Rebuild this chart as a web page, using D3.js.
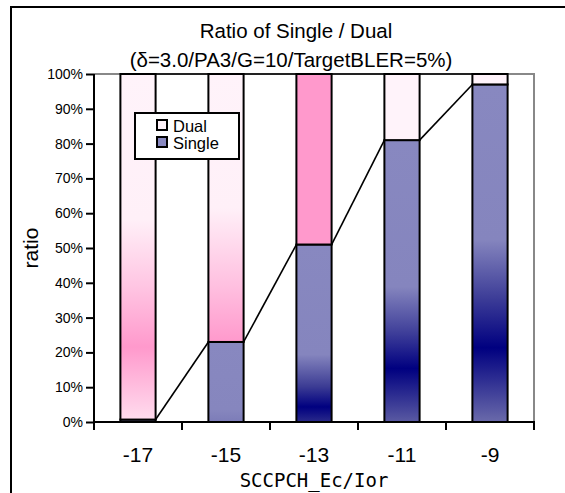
<!DOCTYPE html>
<html><head><meta charset="utf-8">
<script src="https://cdn.jsdelivr.net/npm/d3@7/dist/d3.min.js"></script>
<style>body{margin:0;background:#fff}svg{display:block}text{font-family:"Liberation Sans",Arial,sans-serif;fill:#000}</style>
</head><body>
<script>
// ---- data ----
const categories = ["-17", "-15", "-13", "-11", "-9"];
const singleValues = [0.7, 23, 51, 81, 97];          // % Single
const dualValues = singleValues.map(v => 100 - v);   // % Dual (stack remainder)
const yTickValues = [0,10,20,30,40,50,60,70,80,90,100];
const seriesNames = ["Dual", "Single"];
const titleLines = ["Ratio of Single / Dual", "(δ=3.0/PA3/G=10/TargetBLER=5%)"];

// ---- styles (gradient stops per bar, offset 0 = top of segment) ----
const singleGrad = [
  [[0,"#8888c0"],[1,"#8888c0"]],
  [[0,"#8888c0"],[0.85,"#8686be"],[1,"#7c7cb8"]],
  [[0,"#8888c0"],[0.62,"#8585be"],[0.8,"#3c3c94"],[0.915,"#000080"],[1,"#2a2a8a"]],
  [[0,"#8888c0"],[0.52,"#8585be"],[0.68,"#40409a"],[0.81,"#000080"],[1,"#5a5aa2"]],
  [[0,"#8888c0"],[0.46,"#8585be"],[0.64,"#3a3a96"],[0.78,"#000080"],[1,"#6a6aaa"]]
];
const dualGrad = [
  [[0,"#fff3fa"],[0.42,"#fff0f8"],[0.62,"#ffc4e2"],[0.79,"#ff99cc"],[1,"#ffdcee"]],
  [[0,"#fff3fa"],[0.5,"#fff0f8"],[0.8,"#ffbedf"],[1,"#ff99cc"]],
  [[0,"#ff99cc"],[1,"#ff99cc"]],
  [[0,"#fff3fa"],[1,"#fff3fa"]],
  [[0,"#fff3fa"],[1,"#fff3fa"]]
];

const W = 565, H = 493;
const m = {left: 94, right: 534, top: 74, bottom: 422};
const svg = d3.select("body").append("svg").attr("width", W).attr("height", H);
const defs = svg.append("defs");

function grad(id, stops) {
  const g = defs.append("linearGradient").attr("id", id)
    .attr("x1", 0).attr("y1", 0).attr("x2", 0).attr("y2", 1);
  stops.forEach(s => g.append("stop").attr("offset", s[0]).attr("stop-color", s[1]));
}
singleGrad.forEach((s, i) => grad("gs" + i, s));
dualGrad.forEach((s, i) => grad("gd" + i, s));

// outer chart border
svg.append("rect").attr("x", 11).attr("y", 7).attr("width", 640).attr("height", 640)
  .attr("fill", "none").attr("stroke", "#000").attr("stroke-width", 2);

const x = d3.scaleBand().domain(categories).range([m.left, m.right])
  .paddingInner(0.6).paddingOuter(0.3);
const y = d3.scaleLinear().domain([0, 100]).range([m.bottom, m.top]);

// plot area border (gray top/right)
svg.append("path")
  .attr("d", `M${m.left},${y(100)}H${m.right}V${y(0)}`)
  .attr("fill", "none").attr("stroke", "#888").attr("stroke-width", 2);

// stacked data
const stack = categories.map((c, i) => ({c, i, s: singleValues[i], d: dualValues[i]}));

// Single bars
svg.append("g").selectAll("rect").data(stack).join("rect")
  .attr("x", d => x(d.c)).attr("width", x.bandwidth())
  .attr("y", d => y(d.s)).attr("height", d => y(0) - y(d.s))
  .attr("fill", d => `url(#gs${d.i})`).attr("stroke", "#000").attr("stroke-width", 2);
// Dual bars
svg.append("g").selectAll("rect").data(stack).join("rect")
  .attr("x", d => x(d.c)).attr("width", x.bandwidth())
  .attr("y", d => y(d.s + d.d)).attr("height", d => y(d.s) - y(d.s + d.d))
  .attr("fill", d => `url(#gd${d.i})`).attr("stroke", "#000").attr("stroke-width", 2);

// series lines
const sl = svg.append("g").attr("stroke", "#000").attr("stroke-width", 1.6).attr("fill", "none");
for (let i = 0; i < categories.length - 1; i++) {
  const x1 = x(categories[i]) + x.bandwidth(), x2 = x(categories[i + 1]);
  sl.append("line").attr("x1", x1).attr("x2", x2)
    .attr("y1", y(singleValues[i])).attr("y2", y(singleValues[i + 1]));
  sl.append("line").attr("x1", x1).attr("x2", x2)
    .attr("y1", y(singleValues[i] + dualValues[i])).attr("y2", y(singleValues[i + 1] + dualValues[i + 1]));
}

// y axis
const ya = svg.append("g").attr("transform", `translate(${m.left},0)`)
  .call(d3.axisLeft(y).tickValues(yTickValues).tickFormat(d => d + "%").tickSize(8).tickPadding(3));
ya.select(".domain").attr("stroke", "#000").attr("stroke-width", 2).attr("d", `M0,${y(0)}V${y(100)}`);
ya.selectAll(".tick line").attr("stroke", "#000").attr("stroke-width", 2);
ya.selectAll(".tick text").attr("font-size", 14).attr("font-family", "Liberation Sans, Arial, sans-serif").attr("fill", "#000");

// x axis
const step = x.step();
const boundaries = d3.range(categories.length + 1).map(i => m.left + i * step);
const xa = svg.append("g");
xa.append("line").attr("x1", m.left - 1).attr("x2", m.right + 1).attr("y1", y(0)).attr("y2", y(0))
  .attr("stroke", "#000").attr("stroke-width", 2);
xa.selectAll("line.t").data(boundaries).join("line").attr("class", "t")
  .attr("x1", d => d).attr("x2", d => d).attr("y1", y(0)).attr("y2", y(0) + 8)
  .attr("stroke", "#000").attr("stroke-width", 2);
xa.selectAll("text").data(categories).join("text")
  .attr("x", d => x(d) + x.bandwidth() / 2).attr("y", 462)
  .attr("text-anchor", "middle").attr("font-size", 21).text(d => d);

// axis titles
svg.append("text").attr("x", (m.left + m.right) / 2).attr("y", 487)
  .attr("text-anchor", "middle").attr("font-size", 19)
  .style("font-family", "'DejaVu Sans Mono', monospace").text("SCCPCH_Ec/Ior");
svg.append("text").attr("transform", `translate(37.5,${(m.top + m.bottom) / 2}) rotate(-90)`)
  .attr("text-anchor", "middle").attr("font-size", 21).text("ratio");

// title
svg.append("text").attr("x", 296).attr("y", 38).attr("text-anchor", "middle")
  .attr("font-size", 20.5).text(titleLines[0]);
svg.append("text").attr("x", 291).attr("y", 67).attr("text-anchor", "middle")
  .attr("font-size", 20.5).text(titleLines[1]);

// legend
const lg = svg.append("g");
lg.append("rect").attr("x", 135).attr("y", 113).attr("width", 104).attr("height", 46)
  .attr("fill", "#fff").attr("stroke", "#000").attr("stroke-width", 2);
const legendFill = ["#fff3fa", "#8888c0"];
seriesNames.forEach((n, i) => {
  lg.append("rect").attr("x", 157).attr("y", 120 + i * 17).attr("width", 10).attr("height", 10)
    .attr("fill", legendFill[i]).attr("stroke", "#000").attr("stroke-width", 2);
  lg.append("text").attr("x", 173).attr("y", 131.5 + i * 17).attr("font-size", 16.5).text(n);
});
</script>
</body></html>
